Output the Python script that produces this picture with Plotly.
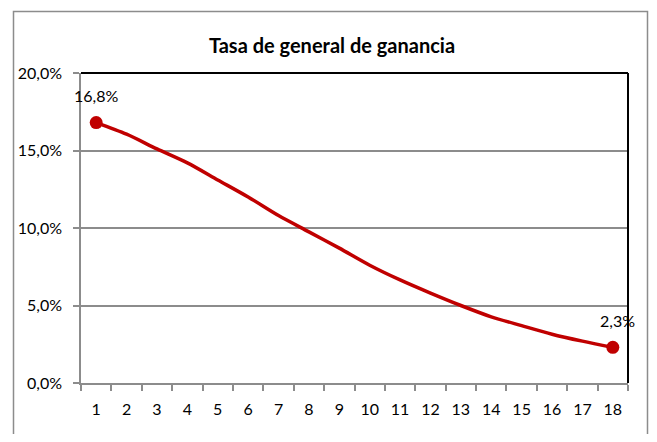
import plotly.graph_objects as go

periods = [str(i) for i in range(1, 19)]
rate = [0.168, 0.1605, 0.151, 0.142, 0.131, 0.120, 0.108, 0.0975, 0.087,
        0.076, 0.0665, 0.058, 0.050, 0.0427, 0.037, 0.0315, 0.027, 0.023]
title_text = "Tasa de general de ganancia"
y_ticks = [0, 0.05, 0.10, 0.15, 0.20]

RED = "#C00000"
GRAY = "#8C8C8C"
FONT = "Lato, 'Open Sans', sans-serif"

fig = go.Figure()
fig.add_trace(go.Scatter(
    x=periods, y=rate, mode="lines", line=dict(color=RED, width=3.5, shape="spline", smoothing=0.8),
    hoverinfo="skip", showlegend=False))
end_idx = [0, len(rate) - 1]
fig.add_trace(go.Scatter(
    x=[periods[i] for i in end_idx], y=[rate[i] for i in end_idx], mode="markers",
    marker=dict(color=RED, size=13), showlegend=False))

for i in end_idx:
    txt = f"{rate[i]*100:.1f}%".replace(".", ",")
    fig.add_annotation(x=i, y=rate[i], text=txt, showarrow=False,
                       yshift=27, xshift=0 if i == 0 else 5,
                       font=dict(family=FONT, size=16, color="#000"))

OFF = 8
W, H = 641, 426
PL, PR, PT, PB = 81, 628, 73, 383  # plot area in screen px
L, R, T, B = PL - OFF, OFF + W - PR, PT - OFF, OFF + H - PB
pw, ph = PR - PL, PB - PT

def px(x):
    return (x - PL) / pw

def py(y):
    return (PB - y) / ph

shapes = [
    dict(type="rect", xref="paper", yref="paper", x0=px(13.5), x1=px(647.5), y0=py(448), y1=py(11.5),
         line=dict(color=GRAY, width=1.5), layer="below"),
    dict(type="line", xref="paper", yref="paper", x0=0, x1=1, y0=1, y1=1, line=dict(color="#000", width=2)),
    dict(type="line", xref="paper", yref="paper", x0=1, x1=1, y0=0, y1=1, line=dict(color="#000", width=2)),
]

fig.update_layout(
    width=W, height=H, margin=dict(l=L, r=R, t=T, b=B, autoexpand=False),
    paper_bgcolor="white", plot_bgcolor="white", separators=", ",
    font=dict(family=FONT, size=16, color="#000"),
    title=dict(text=f"<b>{title_text}</b>", x=(332 - OFF) / W, xanchor="center",
               y=1 - (46 - OFF) / H, yanchor="middle",
               font=dict(family=FONT, size=20, color="#000")),
    shapes=shapes,
    xaxis=dict(type="category", categoryorder="array", categoryarray=periods,
               range=[-0.5, len(periods) - 0.5], showgrid=False, showline=True,
               linecolor=GRAY, linewidth=1.5, ticks="outside", tickson="boundaries",
               ticklen=6, tickcolor=GRAY, tickwidth=1.5, tickfont=dict(size=16), zeroline=False,
               ticklabelstandoff=11, automargin=False),
    yaxis=dict(range=[0, 0.2], tickvals=y_ticks, tickformat=".1%", showgrid=True,
               gridcolor=GRAY, gridwidth=1.5, showline=True, linecolor=GRAY, linewidth=1.5,
               ticks="outside", ticklen=6, tickcolor=GRAY, tickwidth=1.5, zeroline=False,
               ticklabelstandoff=8, tickfont=dict(size=16), automargin=False),
)

fig.write_html("out.html")
